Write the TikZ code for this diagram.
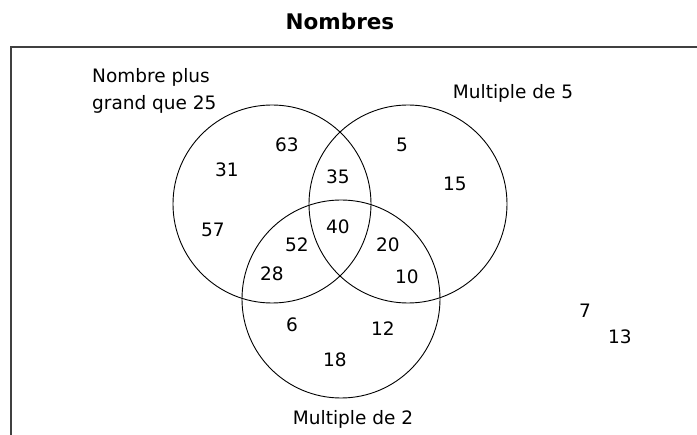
\documentclass[tikz,border=0pt]{standalone}
\usepackage{fontspec}
\setmainfont{DejaVu Sans}
\begin{document}
\begin{tikzpicture}[x=1pt,y=-1pt,
  lbl/.style={font=\fontsize{18.5}{27}\selectfont, inner sep=0pt},
  num/.style={font=\fontsize{18.5}{22}\selectfont, inner sep=0pt},
  setc/.style={draw=black, line width=0.9pt},
  frame/.style={draw=black!75, line width=1.4pt}]
\useasboundingbox (0,0) rectangle (697,435);
\node[font=\fontsize{21.5}{24}\selectfont\bfseries, inner sep=0pt] (title) at (340,21) {Nombres};
\coordinate (fl) at (11,47);
\coordinate (fr) at (697,47);
\coordinate (fb) at (11,435);
\draw[frame] (fb) -- (fl) -- (fr);
\node[setc, circle, minimum size=198pt, inner sep=0pt] (A) at (272,204) {};
\node[setc, circle, minimum size=198pt, inner sep=0pt] (B) at (408,204) {};
\node[setc, circle, minimum size=198pt, inner sep=0pt] (C) at (341,299) {};
\node[lbl, align=left, anchor=west] (la) at (92,91) {Nombre plus\\grand que 25};
\node[lbl] (lb) at (513,93) {Multiple de 5};
\node[lbl] (lc) at (353,419) {Multiple de 2};
\node[num] (n63) at (287,145) {63};
\node[num] (n31) at (227,170) {31};
\node[num] (n57) at (213,230) {57};
\node[num] (n35) at (338,177) {35};
\node[num] (n5) at (402,145) {5};
\node[num] (n15) at (455,184) {15};
\node[num] (n40) at (338,227) {40};
\node[num] (n52) at (297,245) {52};
\node[num] (n28) at (272,274) {28};
\node[num] (n20) at (388,245) {20};
\node[num] (n10) at (407,277) {10};
\node[num] (n6) at (292,325) {6};
\node[num] (n12) at (383,329) {12};
\node[num] (n18) at (335,360) {18};
\node[num] (n7) at (585,311) {7};
\node[num] (n13) at (620,337) {13};
\end{tikzpicture}
\end{document}
